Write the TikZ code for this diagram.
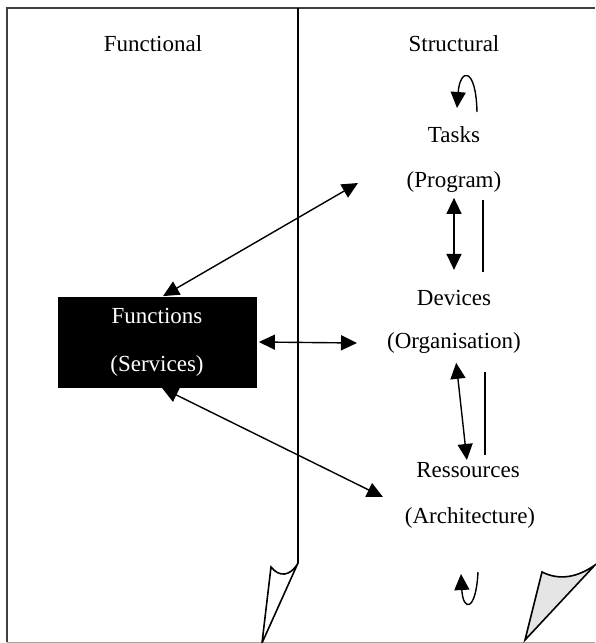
\documentclass[tikz,border=0pt]{standalone}
\usepackage{fontspec}
\setmainfont{Liberation Serif}
\usetikzlibrary{arrows.meta, positioning, calc}

\tikzset{
  lbl/.style={font=\fontsize{11.5}{14}\selectfont, inner sep=0pt},
  link/.style={{Triangle[length=8pt,width=7.5pt]}-{Triangle[length=8pt,width=7.5pt]}, line width=0.7pt},
  cyclearrow/.style={-{Triangle[length=8pt,width=7.5pt]}, line width=0.7pt}
}

\begin{document}
\begin{tikzpicture}[x=0.5pt, y=-0.5pt]
  \useasboundingbox (0,0) rectangle (595,643);
  % frame
  \draw[line width=0.6pt, black!75] (595,8) -- (7,8) -- (7,642);
  \draw[line width=0.5pt, black!35] (7,642) -- (595,642);
  % divider with its curled corner
  \draw[line width=0.8pt] (298,8) -- (298,563) .. controls (290,577) and (279,577) .. (271,567) -- (262,643) -- (298,563);
  \draw[line width=0.8pt, fill=gray!20] (542,572) .. controls (560,581) and (578,577) .. (595,565) -- (525,640) -- cycle;

  \node[lbl] (functional) at (153,44) {Functional};
  \node[lbl] (structural) at (454,44) {Structural};
  \node[lbl] (tasks) at (454,135) {Tasks};
  \node[lbl] (program) at (454,182) {(Program)};
  \node[lbl] (devices) at (454,298) {Devices};
  \node[lbl] (organisation) at (454,343) {(Organisation)};
  \node[lbl] (ressources) at (468,470) {Ressources};
  \node[lbl] (architecture) at (470,518) {(Architecture)};

  \node[lbl, fill=black, text=white, minimum width=99.5pt, minimum height=45.5pt, align=center] (functions) at (157,342) {Functions\\[10pt](Services)};

  \coordinate (tasksin) at (358,183);
  \coordinate (devicesin) at (357,343);
  \coordinate (ressourcesin) at (383,497);

  \draw[link] ($(functions.north)+(6,0)$) -- (tasksin);
  \draw[link] ($(functions.east)+(2,0)$) -- (devicesin);
  \draw[link] ($(functions.south)+(5,0)$) -- (ressourcesin);

  \draw[link, shorten <=2.5pt, shorten >=10pt] (program) -- (devices);
  \draw[link, shorten <=4.5pt, shorten >=1pt] (organisation) -- (ressources);

  % cycle on the structural side
  \draw[line width=0.7pt] (483,200) -- (483,272);
  \draw[line width=0.7pt] (485,372) -- (485,455);
  \draw[cyclearrow] (477,112) .. controls (476,66) and (460,68) .. (457,108);
  \draw[cyclearrow] (478,572) .. controls (476,612) and (463,612) .. (461,574);
\end{tikzpicture}
\end{document}
